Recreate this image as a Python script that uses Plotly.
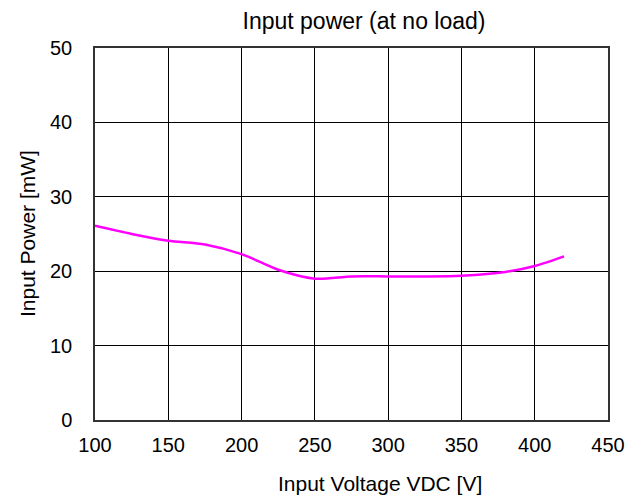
import plotly.graph_objects as go

voltage = [100, 125, 150, 175, 200, 225, 250, 275, 300, 325, 350, 380, 400, 420]
power = [26.1, 25.0, 24.1, 23.6, 22.3, 20.2, 19.0, 19.3, 19.3, 19.3, 19.4, 19.9, 20.7, 22.0]

x_ticks = [100, 150, 200, 250, 300, 350, 400, 450]
y_ticks = [0, 10, 20, 30, 40, 50]

fig = go.Figure()
fig.add_trace(go.Scatter(
    x=voltage, y=power, mode="lines",
    line=dict(color="#FF00FF", width=2.5, shape="spline", smoothing=0.8),
    showlegend=False,
))

font = "Liberation Sans, Arial, sans-serif"
W, H = 644, 503
L, R, T, B = 87, 44, 40, 91
pw, ph = W - L - R, H - T - B
fig.update_layout(
    width=W, height=H,
    margin=dict(l=L, r=R, t=T, b=B),
    paper_bgcolor="white", plot_bgcolor="white",
    font=dict(family=font, color="black"),
    title=dict(text="Input power (at no load)", x=356 / W, xanchor="center",
               y=1 - 13 / H, yanchor="middle", font=dict(size=23, family=font, color="black")),
)
fig.add_annotation(text="Input Voltage VDC [V]", xref="paper", yref="paper",
                   x=(372 - L) / pw, y=(T + ph - 475) / ph, xanchor="center", yanchor="middle",
                   showarrow=False, font=dict(size=21))
fig.add_annotation(text="Input Power [mW]", xref="paper", yref="paper", textangle=-90,
                   x=(19 - L) / pw, y=0.5, xanchor="center", yanchor="middle",
                   showarrow=False, font=dict(size=21))
fig.update_xaxes(
    range=[100, 450], tickvals=x_ticks, ticks="", showgrid=True, gridcolor="black", gridwidth=1,
    showline=True, linecolor="#333333", linewidth=1.5, mirror=True, zeroline=False,
    tickfont=dict(size=20), ticklabelstandoff=6, automargin=False,
)
fig.update_yaxes(
    range=[0, 50], tickvals=y_ticks, ticks="", showgrid=True, gridcolor="black", gridwidth=1,
    showline=True, linecolor="#333333", linewidth=1.5, mirror=True, zeroline=False,
    tickfont=dict(size=20), ticklabelstandoff=17, automargin=False,
)
fig.write_html("out.html")
